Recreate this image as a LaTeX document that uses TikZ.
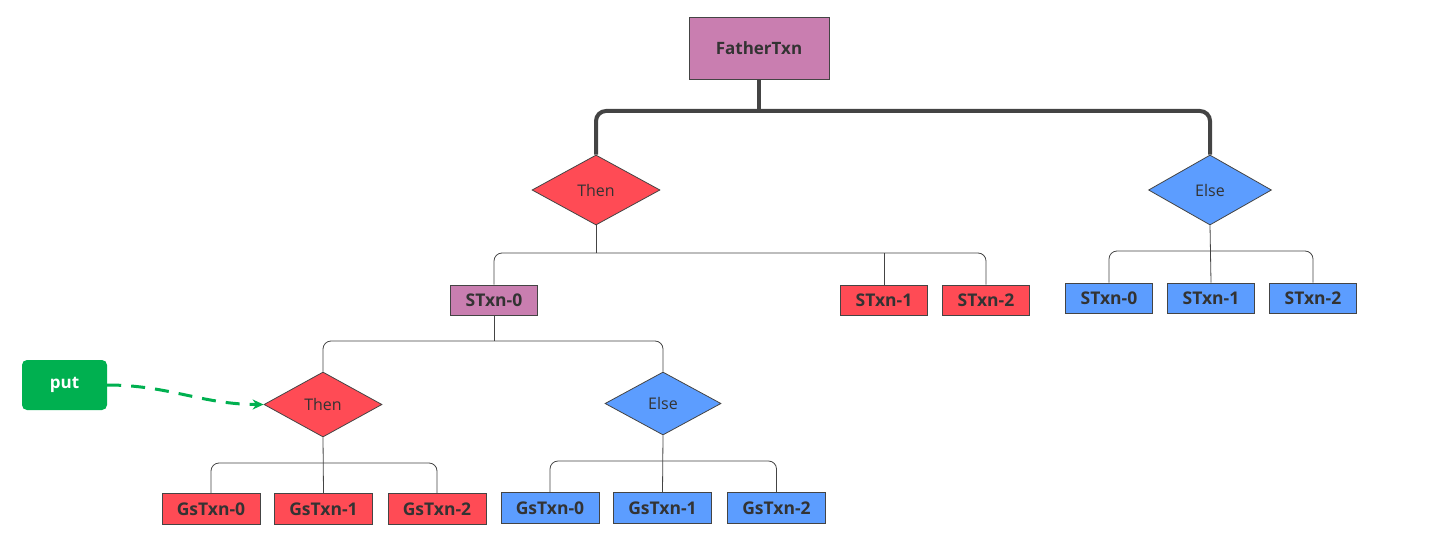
\documentclass[tikz,border=0pt]{standalone}
\usepackage{fontspec}
\setmainfont{Open Sans}
\usetikzlibrary{shapes.geometric,arrows.meta}
\definecolor{cpurple}{HTML}{C97EB0}
\definecolor{cred}{HTML}{FF4B55}
\definecolor{cblue}{HTML}{5C9DFF}
\definecolor{cgreen}{HTML}{00B050}
\definecolor{cline}{HTML}{444444}
\definecolor{ctext}{HTML}{333333}
\tikzset{
  box/.style={draw=cline, line width=0.8pt, inner sep=0pt, text=ctext, font=\bfseries\fontsize{17.5}{20}\selectfont},
  sbox/.style={box, minimum width=87pt, minimum height=30pt},
  gbox/.style={box, minimum width=98pt, minimum height=31pt},
  dia/.style={diamond, draw=cline, line width=0.8pt, inner sep=0pt, text=ctext, font=\fontsize{16}{19}\selectfont, aspect=1.8},
  conn/.style={draw=cline, line width=0.8pt, rounded corners=8pt},
  thickconn/.style={draw=cline, line width=4pt, rounded corners=10pt},
}
\begin{document}
\begin{tikzpicture}[x=1pt,y=-1pt]
\useasboundingbox (0,0) rectangle (1439,559);
% top
\node[box, fill=cpurple, minimum width=140pt, minimum height=62pt, font=\bfseries\fontsize{17}{20}\selectfont] (F) at (759,48) {FatherTxn};
\node[dia, fill=cred, minimum width=128pt, minimum height=70pt] (T1) at (596,190) {Then};
\node[dia, fill=cblue, minimum width=123pt, minimum height=70pt] (E1) at (1210,190) {Else};
\draw[thickconn] (T1.north) |- (E1.north |- 0,111) -- (E1.north);
\draw[draw=cline, line width=4pt] (F.south) -- (759,111);
% level 2 under Then
\node[sbox, fill=cpurple] (S0) at (494,300) {STxn-0};
\node[sbox, fill=cred] (S1) at (884,300) {STxn-1};
\node[sbox, fill=cred] (S2) at (986,300) {STxn-2};
\draw[conn] (S0.north) |- (S2.north |- 0,253) -- (S2.north);
\draw[conn] (T1.south) -- (596,253);
\draw[conn] (S1.north) -- (884,253);
% level 2 under Else
\node[sbox, fill=cblue] (B0) at (1109,298) {STxn-0};
\node[sbox, fill=cblue] (B1) at (1211,298) {STxn-1};
\node[sbox, fill=cblue] (B2) at (1313,298) {STxn-2};
\draw[conn] (B0.north) |- (B2.north |- 0,251) -- (B2.north);
\draw[conn] (E1.south) -- (B1.north);
% level 3
\node[dia, fill=cred, minimum width=118pt, minimum height=65pt] (T2) at (323,404.5) {Then};
\node[dia, fill=cblue, minimum width=116pt, minimum height=63pt] (E2) at (663,403.5) {Else};
\draw[conn] (T2.north) |- (E2.north |- 0,341) -- (E2.north);
\draw[conn] (S0.south) -- (494,341);
% level 4 under Then
\node[gbox, fill=cred] (G0) at (211,509) {GsTxn-0};
\node[gbox, fill=cred] (G1) at (323.5,509) {GsTxn-1};
\node[gbox, fill=cred] (G2) at (437,509) {GsTxn-2};
\draw[conn] (G0.north) |- (G2.north |- 0,463) -- (G2.north);
\draw[conn] (T2.south) -- (G1.north);
% level 4 under Else
\node[gbox, fill=cblue] (H0) at (550,508) {GsTxn-0};
\node[gbox, fill=cblue] (H1) at (662.5,508) {GsTxn-1};
\node[gbox, fill=cblue] (H2) at (776.5,508) {GsTxn-2};
\draw[conn] (H0.north) |- (H2.north |- 0,461) -- (H2.north);
\draw[conn] (E2.south) -- (H1.north);
% put
\node[fill=cgreen, rounded corners=5pt, minimum width=85pt, minimum height=50pt, inner sep=0pt, text=white, font=\bfseries\fontsize{17}{20}\selectfont] (P) at (64.5,385) {put};
\draw[cgreen, line width=3pt, dash pattern=on 14pt off 10pt, -{Stealth[length=11pt,width=10pt]}] (P.east) to[out=0, in=180, looseness=1] (T2.west);
\end{tikzpicture}
\end{document}
